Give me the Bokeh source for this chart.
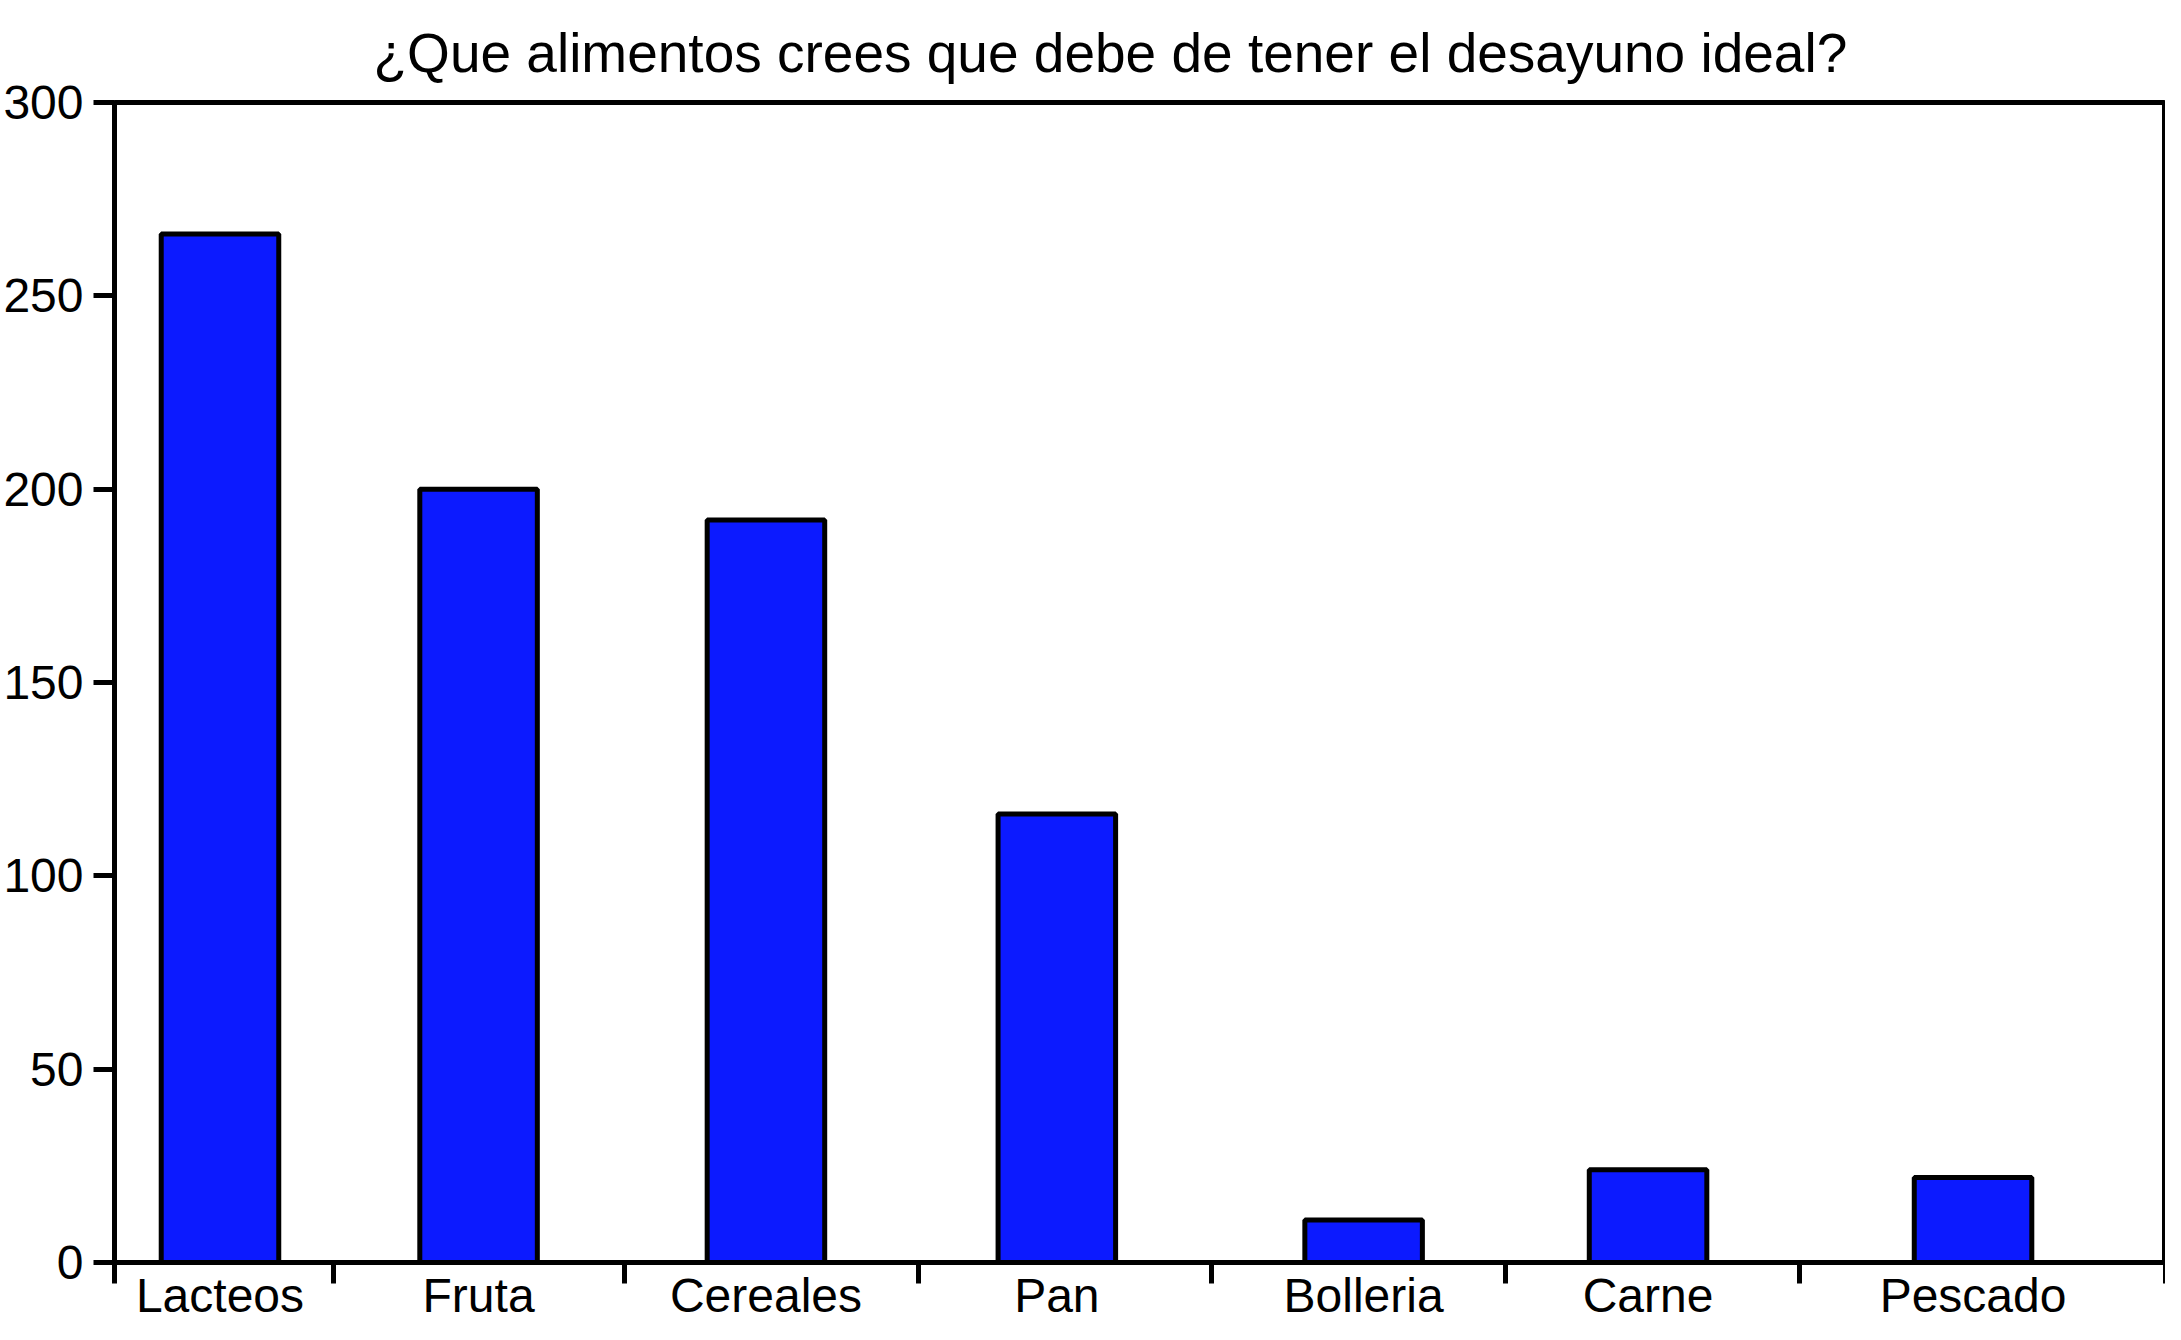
from bokeh.plotting import figure
from bokeh.models import Range1d, FixedTicker, CustomJSTickFormatter, ColumnDataSource
from bokeh.embed import file_html
from bokeh.resources import INLINE

# ---- data ----
categories = ["Lacteos", "Fruta", "Cereales", "Pan", "Bolleria", "Carne", "Pescado"]
values = [266, 200, 192, 116, 11, 24, 22]
# category positions along the x axis (the original spaces them unevenly)
bar_centers = [0.359, 1.239, 2.217, 3.207, 4.251, 5.219, 6.325]
bin_edges = [0.0, 0.744, 1.735, 2.735, 3.734, 4.733, 5.733, 6.98]
y_ticks = [0, 50, 100, 150, 200, 250, 300]
title_text = "¿Que alimentos crees que debe de tener el desayuno ideal?"

FONT = "Liberation Sans"
LW = 5

src = ColumnDataSource(dict(x=bar_centers, top=values, name=categories))

p = figure(width=2165, height=1324, output_backend="svg", toolbar_location=None,
           x_range=Range1d(bin_edges[0], bin_edges[-1]), y_range=Range1d(0, 300),
           min_border_left=10, min_border_right=0, min_border_top=0, min_border_bottom=0)

p.vbar(x="x", top="top", bottom=0, width=0.40, source=src,
       fill_color="#0c1aff", line_color="black", line_width=LW)

p.title.text = title_text
p.title.text_font = FONT
p.title.text_font_size = "55px"
p.title.text_font_style = "normal"
p.title.text_color = "black"
p.title.align = "left"
p.title.offset = 259
p.title.standoff = 38

p.outline_line_color = "black"
p.outline_line_width = LW
p.outline_line_alpha = 1
p.xgrid.visible = False
p.ygrid.visible = False
p.background_fill_color = "white"
p.border_fill_color = "white"

# y axis
ya = p.yaxis[0]
ya.ticker = FixedTicker(ticks=y_ticks)
ya.axis_line_width = LW
ya.axis_line_color = "black"
ya.major_tick_line_width = LW
ya.major_tick_line_color = "black"
ya.major_tick_out = 21
ya.major_tick_in = 0
ya.minor_tick_line_color = None
ya.major_label_text_font = FONT
ya.major_label_text_font_size = "48px"
ya.major_label_text_color = "black"
ya.major_label_standoff = 10

# x axis: names under each bar, tick marks at the category boundaries
xa = p.xaxis[0]
xa.ticker = FixedTicker(ticks=bar_centers, minor_ticks=bin_edges)
xa.formatter = CustomJSTickFormatter(args=dict(labels=categories), code="return labels[index];")
xa.axis_line_width = LW
xa.axis_line_color = "black"
xa.major_tick_out = 0
xa.major_tick_in = 0
xa.major_tick_line_color = None
xa.minor_tick_line_width = LW
xa.minor_tick_line_color = "black"
xa.minor_tick_out = 21
xa.minor_tick_in = 0
xa.major_label_text_font = FONT
xa.major_label_text_font_size = "48px"
xa.major_label_text_color = "black"
xa.major_label_standoff = -15

open("out.html", "w").write(file_html(p, INLINE))
